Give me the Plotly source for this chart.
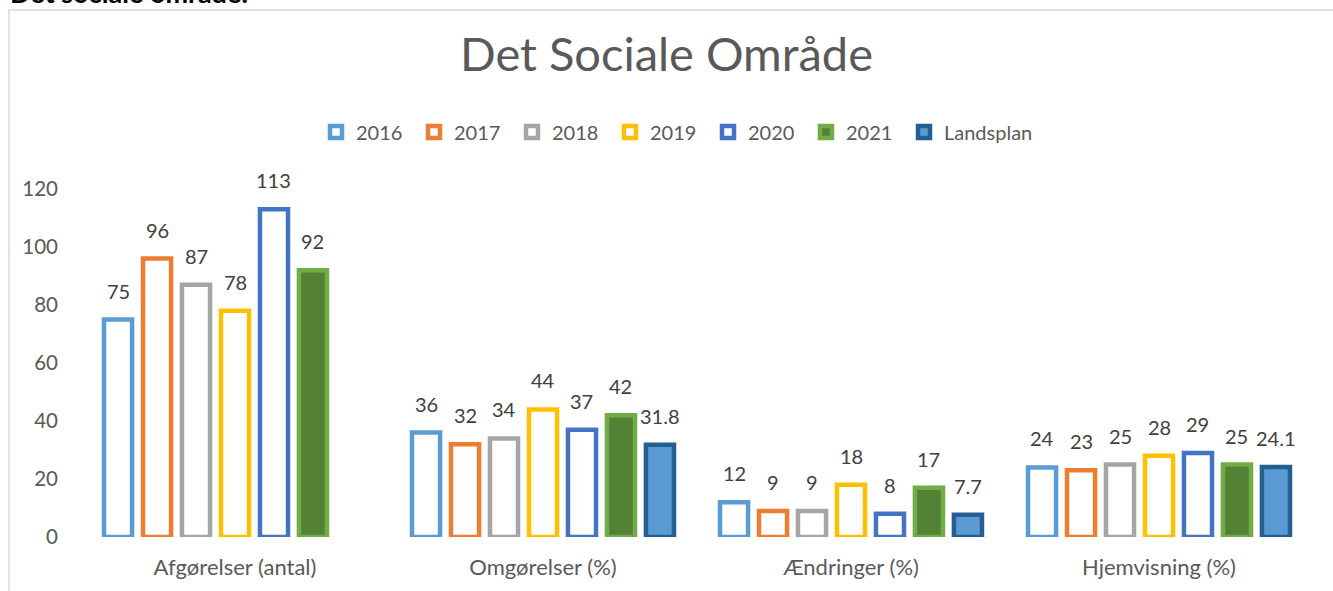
import plotly.graph_objects as go

categories = ["Afgørelser (antal)", "Omgørelser (%)", "Ændringer (%)", "Hjemvisning (%)"]
series_names = ["2016", "2017", "2018", "2019", "2020", "2021", "Landsplan"]
v2016 = [75, 36, 12, 24]
v2017 = [96, 32, 9, 23]
v2018 = [87, 34, 9, 25]
v2019 = [78, 44, 18, 28]
v2020 = [113, 37, 8, 29]
v2021 = [92, 42, 17, 25]
vland = [None, 31.8, 7.7, 24.1]
y_ticks = [0, 20, 40, 60, 80, 100, 120]

values = [v2016, v2017, v2018, v2019, v2020, v2021, vland]
fills = ["white", "white", "white", "white", "white", "#548235", "#5B9BD5"]
lines = ["#5B9BD5", "#ED7D31", "#A5A5A5", "#FFC000", "#4472C4", "#70AD47", "#255E91"]

FONT = "Lato"
W, H = 1333, 591
ML, MR, MT, MB = 81, 20, 189, 54
PW = W - ML - MR
PH = H - MT - MB
BARGAP = 0.114
nser = len(series_names)
slot_px = PW / len(categories) * (1 - BARGAP) / nser

fig = go.Figure()
for i, name in enumerate(series_names):
    fig.add_trace(go.Bar(
        name=name, x=categories, y=values[i],
        marker=dict(color=fills[i], line=dict(color=lines[i], width=4.5)),
        hoverinfo="x+y+name",
    ))
    for j, c in enumerate(categories):
        v = values[i][j]
        if v is None:
            continue
        fig.add_annotation(
            x=c, y=v, xref="x", yref="y", text=str(v), showarrow=False,
            xshift=(i - (nser - 1) / 2) * slot_px, yshift=29, yanchor="middle",
            font=dict(family=FONT, size=20, color="#404040"),
        )

# invisible spacer legend entry so that the last real legend item is not clipped
fig.add_trace(go.Scatter(x=[categories[0]], y=[0], mode="markers", name=" ",
                         marker=dict(color="rgba(0,0,0,0)", size=1), hoverinfo="skip"))

def px2py(py):
    return (H - MB - py) / PH

def px2px(px):
    return (px - ML) / PW

# chart frame border
fig.add_shape(type="rect", xref="paper", yref="paper",
              x0=px2px(9), x1=px2px(W + 20), y0=px2py(H + 20), y1=px2py(10),
              line=dict(color="#D9D9D9", width=1.5), fillcolor="rgba(0,0,0,0)", layer="below")

# clipped heading above the chart
fig.add_annotation(xref="paper", yref="paper", x=px2px(8), y=px2py(-7),
                   xanchor="left", yanchor="middle", showarrow=False,
                   text="<b>Det sociale område:</b>",
                   font=dict(family=FONT, size=27, color="#000000"))

fig.update_layout(
    width=W, height=H,
    margin=dict(l=ML, r=MR, t=MT, b=MB),
    paper_bgcolor="white", plot_bgcolor="white",
    barmode="group", bargap=BARGAP, bargroupgap=0.28,
    title=dict(text="Det Sociale Område", x=0.5, xanchor="center",
               y=1 - 55 / H, yanchor="middle",
               font=dict(family=FONT, size=47, color="#595959")),
    legend=dict(orientation="h", x=px2px(316), xanchor="left", y=px2py(132), yanchor="middle",
                font=dict(family=FONT, size=20, color="#595959"),
                entrywidth=53, entrywidthmode="pixels", traceorder="normal"),
    showlegend=True,
)
fig.update_xaxes(showgrid=False, showline=False, zeroline=False, ticks="",
                 tickfont=dict(family=FONT, size=22, color="#595959"), ticklabelstandoff=15)
fig.update_yaxes(range=[0, 120], tickvals=y_ticks, showgrid=False, showline=False, zeroline=False,
                 ticks="", tickfont=dict(family=FONT, size=20.5, color="#595959"), ticklabelstandoff=22)

fig.write_html("out.html", post_script="document.body.style.margin='0';",
               config={"displayModeBar": False})
